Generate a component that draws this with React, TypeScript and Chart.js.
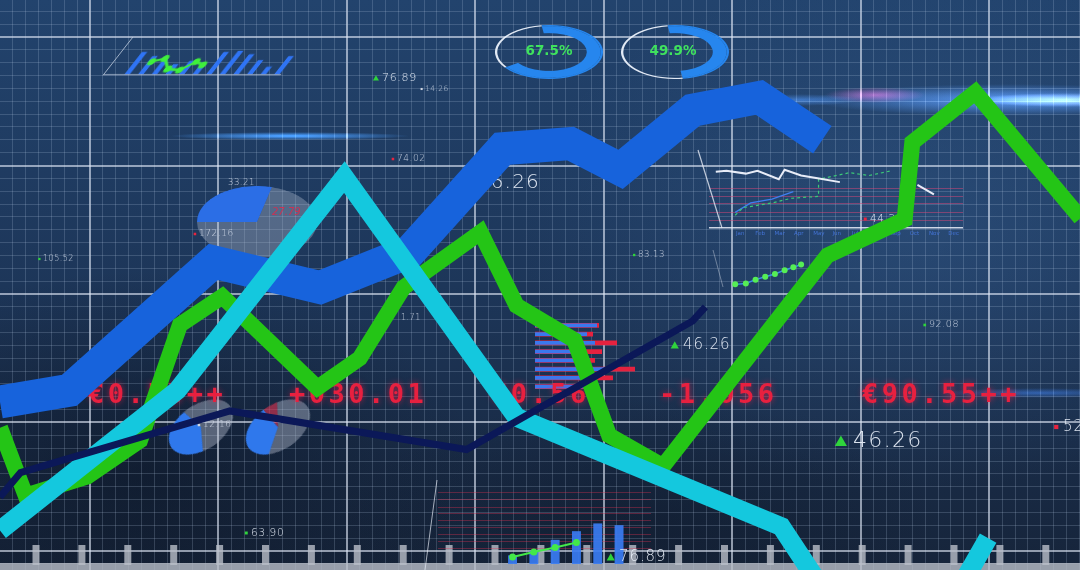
import React, { useEffect, useRef } from "react";
import { Chart, registerables } from "chart.js";

Chart.register(...registerables);

const W = 1080;
const H = 570;

// ---------------- main series (x = grid column, y = grid row; major lines every 10) ----------------
const blueX = [-7, -1.6, 9.6, 17.9, 24.9, 32.1, 37.4, 41.3, 46.9, 52.1, 57.0];
const blueY = [11.6, 12.5, 22.5, 20.5, 23.3, 31.3, 31.7, 29.7, 34.3, 35.3, 32.0];

const greenX = [-7, -5.0, -0.2, 3.9, 7.0, 10.3, 17.7, 21.0, 24.4, 30.4, 33.2, 37.7, 40.4, 44.6, 57.4, 63.4, 64.0, 68.9, 77.1];
const greenY = [9.6, 4.3, 5.8, 8.6, 17.6, 19.8, 12.7, 15.0, 20.5, 24.8, 19.1, 16.4, 9.0, 6.6, 23.0, 25.8, 31.8, 35.7, 25.9];

const cyanX = [-7, 6.8, 19.8, 33.2, 53.8, 62.7, 69.9];
const cyanY = [1.6, 12.5, 29.1, 10.4, 1.9, -11.6, 1.0];

const navyX = [-7, -5.4, 10.9, 29.3, 46.9, 47.9];
const navyY = [4.2, 6.1, 10.9, 7.9, 17.9, 19.0];

const X_MIN = -7;
const X_MAX = 77.05;
const Y_MIN = -1.48;
const Y_MAX = 42.88;
const gridXTicks = Array.from({ length: 84 }, (_, i) => i - 6);
const gridYTicks = Array.from({ length: 44 }, (_, i) => i - 1);

// ---------------- donut gauges ----------------
const donut1Values = [67.5, 32.5];
const donut2Values = [49.9, 50.1];

// ---------------- pies ----------------
const pieValues = [29, 71];
const smallPie1Values = [42, 58];
const smallPie2Values = [38, 7, 55];

// ---------------- hatched bar widget ----------------
const hatchLabels = ["0", "1", "2", "3", "4", "5", "6", "7", "8", "9", "10", "11", "12"];
const hatchValues = [null, 27, 22, 17, 12, 16, 14, 27, 28, 24, 17, 9, 22];
const hatchLineX = [0.5, 1.7, 2.9, 4.3, 5.4, 6.4];
const hatchLineY = [15, 19, 6, 5, 15, 11];

// ---------------- horizontal bar widget ----------------
const hbarLabels = ["a", "b", "c", "d", "e", "f", "g", "h"];
const hbarBlue = [62, 52, 60, 45, 55, 73, 62, 50];
const hbarRed = [64, 58, 82, 67, 60, 100, 78, 55];

// ---------------- bottom bar widget ----------------
const bottomLabels = ["1", "2", "3", "4", "5", "6", "7", "8", "9", "10"];
const bottomBars = [null, null, null, 10, 15, 28, 38, 47, 45, null];
const bottomLine = [null, null, null, 8, 14, 19, 25, null, null, null];
const bottomGridTicks = [18, 26, 34, 42, 50, 58, 66, 75, 83];

// ---------------- mini line widget ----------------
const miniWhiteX = [7, 18, 38, 50, 72, 78, 95, 112, 135];
const miniWhiteY = [126, 127, 124, 127, 118, 128, 122, 119, 115];
const miniWhite2X = [215, 232];
const miniWhite2Y = [112, 102];
const miniGreenX = [27, 35, 65, 85, 113, 113, 145, 165, 188];
const miniGreenY = [80, 88, 93, 98, 100, 118, 125, 122, 127];
const miniBlueX = [27, 43, 65, 87];
const miniBlueY = [83, 93, 97, 105];
const beadX = [27, 38, 48, 58, 68, 78, 87, 95];
const beadY = [7, 8, 12, 15, 18, 22, 25, 28];
const miniGridTicks = [67, 75, 83, 92, 100, 108];
const monthLabels = ["Jan", "Feb", "Mar", "Apr", "May", "Jun", "Jul", "Aug", "Sep", "Oct", "Nov", "Dec"];

// ---------------- texts ----------------
const tickerTexts = ["€0.55++", "+030.01", "€0.56", "-1.056", "€90.55++"];
const gaugeTexts = ["67.5%", "49.9%"];

const WHITE = "rgba(236,242,252,0.92)";
const GREEN_MARK = "#2fd43c";
const RED_MARK = "#e8243f";
const DONUT_BLUE = "#2686ee";

const quoteLabels: any[] = [
  { text: "76.89", x: 382, y: 78, size: 11, mark: "tri", color: GREEN_MARK },
  { text: "14.26", x: 425, y: 89, size: 7.5, mark: "dot", color: "#cfd6e2" },
  { text: "74.02", x: 397, y: 159, size: 9, mark: "dot", color: RED_MARK },
  { text: "33.21", x: 228, y: 183, size: 8.5, mark: "none" },
  { text: "172.16", x: 199, y: 234, size: 9, mark: "dot", color: RED_MARK },
  { text: "105.52", x: 43, y: 259, size: 8, mark: "dot", color: GREEN_MARK },
  { text: "83.13", x: 638, y: 255, size: 8.5, mark: "dot", color: GREEN_MARK },
  { text: "44.20", x: 870, y: 219, size: 10.5, mark: "dot", color: RED_MARK },
  { text: "92.08", x: 929, y: 325, size: 9.5, mark: "dot", color: GREEN_MARK },
  { text: "52.40", x: 1063, y: 427, size: 15, mark: "dot", color: RED_MARK },
  { text: "76.89", x: 619, y: 557, size: 15, mark: "tri", color: GREEN_MARK },
  { text: "63.90", x: 251, y: 533, size: 10.5, mark: "dot", color: GREEN_MARK },
  { text: "12.16", x: 203, y: 425, size: 9, mark: "dot", color: "#cfd6e2" },
  { text: "1.71", x: 401, y: 318, size: 8, mark: "none" },
  { text: "46.26", x: 683, y: 345, size: 15, mark: "tri", color: GREEN_MARK },
  { text: "46.26", x: 853, y: 441, size: 22, mark: "tri", color: GREEN_MARK },
  { text: "46.26", x: 540, y: 183, size: 20, mark: "none", align: "right" },
];

const pts = (xs: number[], ys: number[]) => xs.map((x, i) => ({ x, y: ys[i] }));

const baseOptions = (): any => ({
  animation: false,
  responsive: false,
  maintainAspectRatio: false,
  events: [],
  layout: { padding: 0 },
  plugins: { legend: { display: false }, tooltip: { enabled: false } },
});

function glow(ctx: any, x: number, y: number, rx: number, ry: number, rgb: number[], a: number) {
  ctx.save();
  ctx.translate(x, y);
  ctx.scale(rx / ry, 1);
  const g = ctx.createRadialGradient(0, 0, 0, 0, 0, ry);
  g.addColorStop(0, `rgba(${rgb[0]},${rgb[1]},${rgb[2]},${a})`);
  g.addColorStop(1, `rgba(${rgb[0]},${rgb[1]},${rgb[2]},0)`);
  ctx.fillStyle = g;
  ctx.beginPath();
  ctx.arc(0, 0, ry, 0, Math.PI * 2);
  ctx.fill();
  ctx.restore();
}

function seg(ctx: any, x1: number, y1: number, x2: number, y2: number, color: string, w: number) {
  ctx.strokeStyle = color;
  ctx.lineWidth = w;
  ctx.beginPath();
  ctx.moveTo(x1, y1);
  ctx.lineTo(x2, y2);
  ctx.stroke();
}

const backPlugin = {
  id: "backdrop",
  beforeDraw(chart: any) {
    const { ctx } = chart;
    ctx.save();
    const g = ctx.createLinearGradient(0, 0, 0, H);
    g.addColorStop(0, "#22436d");
    g.addColorStop(0.5, "#1d3659");
    g.addColorStop(1, "#16243a");
    ctx.fillStyle = g;
    ctx.fillRect(0, 0, W, H);
    glow(ctx, 920, 230, 400, 260, [60, 105, 160], 0.35);
    glow(ctx, 140, 470, 340, 200, [8, 14, 26], 0.45);
    glow(ctx, 640, 520, 300, 120, [10, 18, 32], 0.35);
    ctx.restore();
  },
  afterDraw(chart: any) {
    const { ctx } = chart;
    ctx.save();
    ctx.globalCompositeOperation = "lighter";
    glow(ctx, 1010, 100, 200, 16, [100, 160, 255], 0.55);
    glow(ctx, 1065, 100, 90, 7, [220, 235, 255], 0.55);
    glow(ctx, 875, 95, 50, 8, [255, 50, 120], 0.45);
    glow(ctx, 800, 100, 60, 6, [80, 150, 255], 0.35);
    glow(ctx, 290, 136, 120, 4, [70, 160, 255], 0.7);
    glow(ctx, 1040, 393, 100, 5, [60, 130, 255], 0.35);
    ctx.globalCompositeOperation = "source-over";
    // ruler along the bottom
    ctx.fillStyle = "rgba(185,190,200,0.8)";
    ctx.fillRect(0, 563, W, 7);
    for (let x = 36; x < W; x += 45.9) ctx.fillRect(x - 3.5, 545, 7, 20);
    ctx.restore();
  },
};

function drawMark(ctx: any, kind: string, x: number, y: number, size: number, color: string) {
  ctx.fillStyle = color;
  if (kind === "tri") {
    const s = size * 0.5;
    const cx = x - size * 0.55;
    ctx.beginPath();
    ctx.moveTo(cx, y - s * 0.5);
    ctx.lineTo(cx + s * 0.55, y + s * 0.45);
    ctx.lineTo(cx - s * 0.55, y + s * 0.45);
    ctx.closePath();
    ctx.fill();
  } else if (kind === "dot") {
    const r = Math.max(1, size * 0.14);
    ctx.fillRect(x - size * 0.45 - r, y - r, r * 2, r * 2);
  }
}

const frontPlugin = {
  id: "frontText",
  beforeDatasetsDraw(chart: any) {
    const { ctx } = chart;
    ctx.save();
    // widget frame lines
    seg(ctx, 698, 150, 722, 228, "rgba(230,235,245,0.8)", 1.2);
    seg(ctx, 713, 250, 723, 287, "rgba(190,200,215,0.5)", 1);
    seg(ctx, 437, 480, 425, 570, "rgba(230,235,245,0.7)", 1);

    // month labels of mini widget
    ctx.font = '5.5px "DejaVu Sans"';
    ctx.fillStyle = "rgba(70,120,225,0.9)";
    ctx.textBaseline = "middle";
    ctx.textAlign = "left";
    monthLabels.forEach((m, i) => ctx.fillText(m, 736 + i * 19.3, 234));

    // red ticker row
    ctx.font = 'bold 27px "DejaVu Sans Mono", "Liberation Mono", monospace';
    (ctx as any).letterSpacing = "3.5px";
    ctx.fillStyle = "#e8203f";
    ctx.shadowColor = "rgba(255,30,70,0.6)";
    ctx.shadowBlur = 6;
    const tickerX = [88, 289, 491, 659, 862];
    tickerTexts.forEach((t, i) => ctx.fillText(t, tickerX[i], 396));
    ctx.shadowBlur = 0;

    // pie label
    (ctx as any).letterSpacing = "0px";
    ctx.font = 'italic 10px "DejaVu Sans"';
    ctx.fillStyle = "rgba(225,40,75,0.85)";
    ctx.fillText("27.79", 272, 212);

    // white quote labels
    quoteLabels.forEach((l) => {
      ctx.font = `200 ${l.size}px "DejaVu Sans", sans-serif`;
      (ctx as any).letterSpacing = `${(l.size * 0.06).toFixed(2)}px`;
      ctx.textAlign = l.align === "right" ? "right" : "left";
      ctx.fillStyle = l.size < 10 ? "rgba(225,232,245,0.8)" : WHITE;
      ctx.fillText(l.text, l.x, l.y);
      if (l.mark !== "none") drawMark(ctx, l.mark, l.x, l.y, l.size, l.color);
    });

    // gauge labels
    (ctx as any).letterSpacing = "0px";
    ctx.textAlign = "center";
    ctx.font = 'bold 13.5px "DejaVu Sans", sans-serif';
    ctx.fillStyle = "#3fe25e";
    ctx.fillText(gaugeTexts[0], 549, 51);
    ctx.fillText(gaugeTexts[1], 673, 51);
    ctx.restore();
  },
};

const lineDs = (label: string, xs: number[], ys: number[], color: string, width: number, order: number) => ({
  label,
  data: pts(xs, ys),
  borderColor: color,
  backgroundColor: color,
  borderWidth: width,
  pointRadius: 0,
  tension: 0,
  fill: false,
  borderJoinStyle: "miter",
  borderCapStyle: "butt",
  order,
});

const gridScale = (min: number, max: number, ticks: number[]) => ({
  type: "linear",
  min,
  max,
  afterBuildTicks: (s: any) => {
    s.ticks = ticks.map((v) => ({ value: v }));
  },
  ticks: { display: false },
  border: { display: false },
  grid: {
    drawTicks: false,
    color: (c: any) => (c.tick && c.tick.value % 10 === 0 ? "rgba(222,230,245,0.62)" : "rgba(190,210,235,0.2)"),
    lineWidth: (c: any) => (c.tick && c.tick.value % 10 === 0 ? 2 : 1),
  },
});

const makeBack = () => ({
  type: "line",
  data: { datasets: [] },
  options: {
    ...baseOptions(),
    scales: {
      x: gridScale(X_MIN, X_MAX, gridXTicks),
      y: gridScale(Y_MIN, Y_MAX, gridYTicks),
    },
  },
  plugins: [backPlugin],
});

const makeFront = () => ({
  type: "line",
  data: {
    datasets: [
      lineDs("navy", navyX, navyY, "#0b1858", 7, 0),
      lineDs("cyan", cyanX, cyanY, "#14c8de", 19, 1),
      lineDs("green", greenX, greenY, "#24c516", 16, 2),
      lineDs("blue", blueX, blueY, "#1763dc", 33, 3),
    ],
  },
  options: {
    ...baseOptions(),
    scales: {
      x: { type: "linear", min: X_MIN, max: X_MAX, display: false },
      y: { type: "linear", min: Y_MIN, max: Y_MAX, display: false },
    },
  },
  plugins: [frontPlugin],
});

const makeDonut = (values: number[]) => () => ({
  type: "doughnut",
  data: {
    labels: ["value", "rest"],
    datasets: [
      { data: values, backgroundColor: [DONUT_BLUE, "rgba(236,242,252,0.95)"], borderWidth: 0, weight: 1 },
      { data: values, backgroundColor: [DONUT_BLUE, "rgba(0,0,0,0)"], borderWidth: 0, weight: 6 },
    ],
  },
  options: { ...baseOptions(), cutout: "70%", rotation: -8 },
});

const makePie = (values: number[], colors: string[], rotation: number) => () => ({
  type: "pie",
  data: { labels: values.map((_, i) => String(i)), datasets: [{ data: values, backgroundColor: colors, borderWidth: 0 }] },
  options: { ...baseOptions(), rotation },
});

const makeHatch = () => ({
  type: "bar",
  data: {
    labels: hatchLabels,
    datasets: [
      {
        type: "line",
        data: pts(hatchLineX, hatchLineY),
        xAxisID: "xl",
        borderColor: "#3ff03c",
        backgroundColor: "#3ff03c",
        borderWidth: 2.5,
        pointRadius: 3.5,
        pointBorderWidth: 0,
        tension: 0,
        order: 0,
      },
      {
        type: "bar",
        data: hatchValues,
        xAxisID: "x",
        backgroundColor: "#2f74f5",
        barPercentage: 0.78,
        categoryPercentage: 1,
        order: 1,
      },
    ],
  },
  options: {
    ...baseOptions(),
    scales: {
      x: { type: "category", offset: true, ticks: { display: false }, grid: { display: false, drawTicks: false }, border: { display: true, color: "rgba(210,220,235,0.7)", width: 1 } },
      xl: { type: "linear", min: -0.5, max: 12.5, display: false },
      y: { min: 0, max: 45, ticks: { display: false }, grid: { display: false, drawTicks: false }, border: { display: true, color: "rgba(210,220,235,0.7)", width: 1 } },
    },
  },
});

const makeHbar = () => ({
  type: "bar",
  data: {
    labels: hbarLabels,
    datasets: [
      { data: hbarBlue, backgroundColor: "#3a78ee", barPercentage: 0.42, categoryPercentage: 1, grouped: false, order: 0 },
      { data: hbarRed, backgroundColor: "#e5223f", barPercentage: 0.55, categoryPercentage: 1, grouped: false, order: 1 },
    ],
  },
  options: {
    ...baseOptions(),
    indexAxis: "y",
    scales: { x: { min: 0, max: 100, display: false }, y: { display: false } },
  },
});

const makeBottom = () => ({
  type: "bar",
  data: {
    labels: bottomLabels,
    datasets: [
      { type: "line", data: bottomLine, borderColor: "#43e84a", backgroundColor: "#43e84a", borderWidth: 2, pointRadius: 2.5, tension: 0, order: 0 },
      { type: "bar", data: bottomBars, backgroundColor: "rgba(58,124,242,0.92)", barPercentage: 0.42, categoryPercentage: 1, order: 1 },
    ],
  },
  options: {
    ...baseOptions(),
    scales: {
      x: { display: false },
      y: {
        min: 0,
        max: 88,
        afterBuildTicks: (s: any) => {
          s.ticks = bottomGridTicks.map((v) => ({ value: v }));
        },
        ticks: { display: false },
        border: { display: false },
        grid: { drawTicks: false, color: "rgba(230,50,80,0.35)", lineWidth: 1 },
      },
    },
  },
});

const makeMini = () => ({
  type: "line",
  data: {
    datasets: [
      { data: pts(miniWhiteX, miniWhiteY), borderColor: "rgba(242,246,255,0.95)", borderWidth: 2, pointRadius: 0, tension: 0 },
      { data: pts(miniWhite2X, miniWhite2Y), borderColor: "rgba(242,246,255,0.95)", borderWidth: 2, pointRadius: 0, tension: 0 },
      { data: pts(miniGreenX, miniGreenY), borderColor: "#3cc878", borderWidth: 1.2, borderDash: [3, 3], pointRadius: 0, tension: 0 },
      { data: pts(miniBlueX, miniBlueY), borderColor: "#3f7ff0", borderWidth: 1.3, pointRadius: 0, tension: 0 },
      { data: pts(beadX, beadY), borderColor: "#3a8ee8", backgroundColor: "#55ee55", borderWidth: 1.5, pointRadius: 3, pointBorderWidth: 0, tension: 0 },
    ],
  },
  options: {
    ...baseOptions(),
    scales: {
      x: { type: "linear", min: 0, max: 262, display: false },
      y: {
        type: "linear",
        min: 0,
        max: 150,
        afterBuildTicks: (s: any) => {
          s.ticks = miniGridTicks.map((v) => ({ value: v }));
        },
        ticks: { display: false },
        border: { display: false },
        grid: {
          drawTicks: false,
          color: (c: any) => (c.tick && c.tick.value === 67 ? "rgba(235,240,250,0.85)" : "rgba(215,70,120,0.5)"),
          lineWidth: (c: any) => (c.tick && c.tick.value === 67 ? 1.5 : 1),
        },
      },
    },
  },
});

function Layer(props: any) {
  const { left, top, width, height, z, transform, make } = props;
  const ref = useRef<HTMLCanvasElement>(null);
  useEffect(() => {
    const chart = new Chart(ref.current as HTMLCanvasElement, make() as any);
    return () => chart.destroy();
  }, []);
  return (
    <canvas
      ref={ref}
      width={width}
      height={height}
      style={{
        position: "absolute",
        left,
        top,
        width,
        height,
        zIndex: z,
        transform: transform || "none",
        transformOrigin: "50% 50%",
        display: "block",
      }}
    />
  );
}

export default function App() {
  return (
    <div
      style={{
        position: "fixed",
        left: 0,
        top: 0,
        width: W,
        height: H,
        overflow: "hidden",
        background: "#1b3150",
      }}
    >
      <Layer left={0} top={0} width={W} height={H} z={0} make={makeBack} />
      <Layer left={495} top={-2} width={108} height={108} z={1} transform="scaleY(0.5)" make={makeDonut(donut1Values)} />
      <Layer left={621} top={-2} width={108} height={108} z={1} transform="scaleY(0.5)" make={makeDonut(donut2Values)} />
      <Layer
        left={197}
        top={162}
        width={120}
        height={120}
        z={1}
        transform="scaleY(0.6)"
        make={makePie(pieValues, ["#2b6ee6", "rgba(180,190,210,0.36)"], -90)}
      />
      <Layer
        left={165}
        top={391}
        width={72}
        height={72}
        z={1}
        transform="rotate(-35deg) scaleY(0.62)"
        make={makePie(smallPie1Values, ["#2f78ec", "rgba(190,198,215,0.4)"], 200)}
      />
      <Layer
        left={242}
        top={391}
        width={72}
        height={72}
        z={1}
        transform="rotate(-35deg) scaleY(0.62)"
        make={makePie(smallPie2Values, ["#2f78ec", "rgba(225,50,80,0.6)", "rgba(190,198,215,0.4)"], 220)}
      />
      <Layer left={114} top={33} width={185} height={45} z={1} transform="skewX(-38deg)" make={makeHatch} />
      <Layer left={535} top={321} width={100} height={70} z={1} make={makeHbar} />
      <Layer left={432} top={482} width={225} height={88} z={1} make={makeBottom} />
      <Layer left={705} top={145} width={262} height={150} z={1} make={makeMini} />
      <Layer left={0} top={0} width={W} height={H} z={2} make={makeFront} />
    </div>
  );
}
